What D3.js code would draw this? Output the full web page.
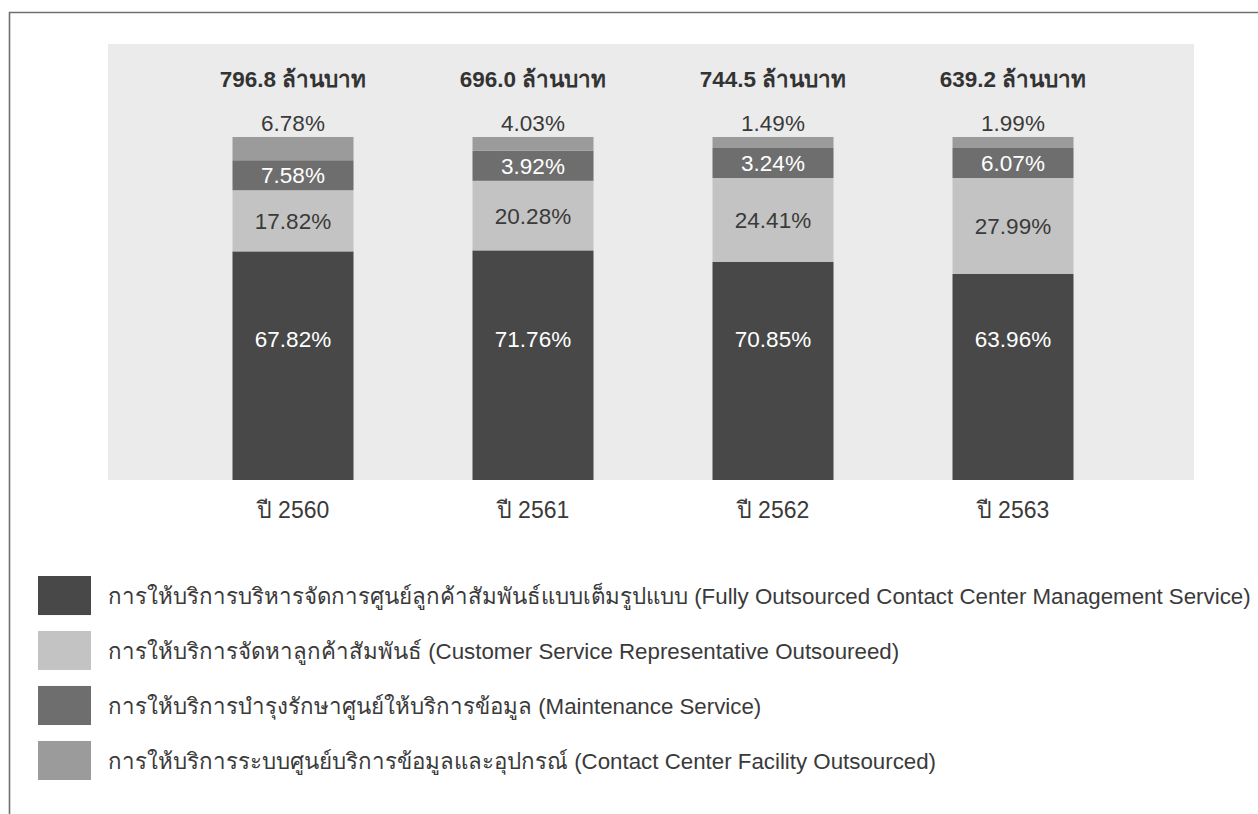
<!DOCTYPE html>
<html>
<head>
<meta charset="utf-8">
<script src="https://cdn.jsdelivr.net/npm/d3@7"></script>
<style>
  body { margin: 0; background: #fff; }
  svg text { font-family: "Liberation Sans", "Noto Sans", "DejaVu Sans", sans-serif; fill: #3a3a3a; }
</style>
</head>
<body>
<svg id="chart" width="1258" height="814"></svg>
<script>
// data
var years = ["ปี 2560", "ปี 2561", "ปี 2562", "ปี 2563"];
var totals = ["796.8 ล้านบาท", "696.0 ล้านบาท", "744.5 ล้านบาท", "639.2 ล้านบาท"];
var fullyOutsourced = [67.82, 71.76, 70.85, 63.96];
var csrOutsourced = [17.82, 20.28, 24.41, 27.99];
var maintenance = [7.58, 3.92, 3.24, 6.07];
var facility = [6.78, 4.03, 1.49, 1.99];

var seriesKeys = ["fully", "csr", "maint", "facility"];
var seriesNames = [
    "การให้บริการบริหารจัดการศูนย์ลูกค้าสัมพันธ์แบบเต็มรูปแบบ (Fully Outsourced Contact Center Management Service)",
    "การให้บริการจัดหาลูกค้าสัมพันธ์ (Customer Service Representative Outsoureed)",
    "การให้บริการบำรุงรักษาศูนย์ให้บริการข้อมูล (Maintenance Service)",
    "การให้บริการระบบศูนย์บริการข้อมูลและอุปกรณ์ (Contact Center Facility Outsourced)"
];
var colors = ["#484848", "#c3c3c3", "#6e6e6e", "#9b9b9b"];
var labelColors = ["#ffffff", "#3a3a3a", "#ffffff", "#3a3a3a"];
// smallest height (px) a segment gets so its label still fits
var minPx = [0, 0, 30, 11];

var table = years.map(function (y, i) {
    return { year: y, total: totals[i], fully: fullyOutsourced[i], csr: csrOutsourced[i], maint: maintenance[i], facility: facility[i] };
});

var svg = d3.select("#chart");

// frame (top + left edge only)
svg.append("path")
    .attr("d", "M9.5,814V12.5H1258")
    .attr("fill", "none")
    .attr("stroke", "#707070")
    .attr("stroke-width", 1.6);

var panel = { left: 108, right: 1194, top: 44, bottom: 480 };

svg.append("rect")
    .attr("x", panel.left)
    .attr("y", panel.top)
    .attr("width", panel.right - panel.left)
    .attr("height", panel.bottom - panel.top)
    .attr("fill", "#ebebeb");

var xScale = d3.scaleBand()
    .domain(years)
    .range([113, 1193])
    .paddingInner(0.5)
    .paddingOuter(0.5);

var yScale = d3.scaleLinear()
    .domain([0, 100])
    .range([panel.bottom, 137]);

// stack, then bump tiny segments up to a readable height (taken from the base segment)
var stacked = table.map(function (d) {
    var h = seriesKeys.map(function (k, j) {
        return Math.max(yScale(0) - yScale(d[k]), minPx[j]);
    });
    var extra = d3.sum(h) - (yScale(0) - yScale(100));
    h[0] -= extra;
    var y0 = yScale(0);
    return seriesKeys.map(function (k, j) {
        var seg = { year: d.year, key: k, idx: j, value: d[k], y1: y0, y0: y0 - h[j] };
        y0 -= h[j];
        return seg;
    });
});

var bars = svg.append("g");
var barW = 121;

stacked.forEach(function (segs) {
    var g = bars.append("g")
        .attr("transform", "translate(" + (xScale(segs[0].year) + xScale.bandwidth() / 2 - barW / 2) + ",0)");
    g.selectAll("rect")
        .data(segs)
        .enter()
        .append("rect")
        .attr("x", 0)
        .attr("y", function (d) { return d.y0; })
        .attr("width", barW)
        .attr("height", function (d) { return d.y1 - d.y0; })
        .attr("fill", function (d) { return colors[d.idx]; });

    g.selectAll("text")
        .data(segs)
        .enter()
        .append("text")
        .attr("x", barW / 2)
        .attr("y", function (d) {
            if (d.idx === 3) return d.y0 - 14;          // above the bar
            if (d.idx === 0) return yScale(41);         // base labels sit on one line
            return (d.y0 + d.y1) / 2;
        })
        .attr("dy", "0.36em")
        .attr("text-anchor", "middle")
        .style("font-size", "22.5px")
        .style("fill", function (d) { return labelColors[d.idx]; })
        .text(function (d) { return d.value.toFixed(2) + "%"; });
});

// totals on top
svg.append("g")
    .selectAll("text")
    .data(table)
    .enter()
    .append("text")
    .attr("x", function (d) { return xScale(d.year) + xScale.bandwidth() / 2; })
    .attr("y", 87)
    .attr("text-anchor", "middle")
    .style("font-size", "22.5px")
    .style("font-weight", "bold")
    .style("fill", "#333")
    .text(function (d) { return d.total; });

// year axis
var xAxis = svg.append("g")
    .attr("transform", "translate(0," + panel.bottom + ")")
    .call(d3.axisBottom(xScale).tickSize(0).tickPadding(22));
xAxis.select(".domain").remove();
xAxis.selectAll("text")
    .attr("dy", "0.71em")
    .style("font-size", "23px")
    .style("fill", "#3a3a3a");

// legend
var legendY = d3.scaleBand()
    .domain(seriesKeys)
    .range([576, 780])
    .paddingInner(0.29);

var legend = svg.append("g")
    .selectAll("g")
    .data(seriesKeys)
    .enter()
    .append("g")
    .attr("transform", function (d) { return "translate(0," + legendY(d) + ")"; });

legend.append("rect")
    .attr("x", 38)
    .attr("width", 53)
    .attr("height", legendY.bandwidth())
    .attr("fill", function (d, i) { return colors[i]; });

legend.append("text")
    .attr("x", 108)
    .attr("y", legendY.bandwidth() / 2)
    .attr("dy", "0.36em")
    .style("font-size", "22.3px")
    .style("fill", "#3a3a3a")
    .text(function (d, i) { return seriesNames[i]; });
</script>
</body>
</html>
